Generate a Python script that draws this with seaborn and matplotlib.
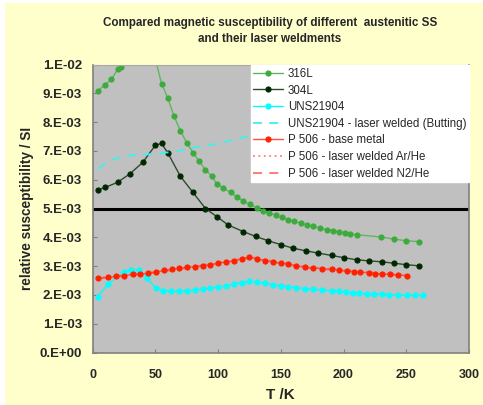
import numpy as np
import matplotlib
matplotlib.use("Agg")
import matplotlib.pyplot as plt
import matplotlib.patches as mpatches
import seaborn as sns

# ---------------- data (susceptibility in units of 1e-3 SI) ----------------
t_316 = [4, 10, 15, 20, 22.5, 30, 40, 50, 55, 60, 65, 70, 75, 80, 85, 90, 95, 99,
         104, 110, 115, 120, 125.5, 131, 135.5, 141, 146, 151, 156, 160.5, 166, 171,
         176, 181, 186.5, 192, 196.5, 201, 205.5, 210.5, 230, 240, 250, 260]
chi_316 = [9.07, 9.30, 9.48, 9.83, 9.91, 10.6, 11.2, 10.2, 9.34, 8.83, 8.20, 7.70,
           7.29, 6.94, 6.64, 6.35, 6.12, 5.86, 5.71, 5.56, 5.40, 5.26, 5.14, 5.03,
           4.93, 4.84, 4.76, 4.69, 4.61, 4.55, 4.49, 4.43, 4.38, 4.32, 4.26, 4.23,
           4.19, 4.15, 4.12, 4.09, 4.01, 3.94, 3.88, 3.85]

t_304 = [4.4, 10, 20, 30, 40, 50, 55, 60, 70, 80, 90, 99, 108, 120, 130, 140, 150.5,
         160, 170, 180, 190.5, 200.5, 210.5, 220.5, 230.5, 240, 250, 260]
chi_304 = [5.65, 5.73, 5.91, 6.21, 6.60, 7.19, 7.26, 6.93, 6.12, 5.56, 5.00, 4.72,
           4.43, 4.20, 4.03, 3.88, 3.74, 3.62, 3.53, 3.45, 3.37, 3.29, 3.22, 3.18,
           3.15, 3.10, 3.05, 3.01]

t_uns = [4, 12.5, 25, 31, 37, 43.5, 50.5, 56.5, 62.5, 69, 75, 81.5, 88, 94, 100,
         106.5, 112.5, 119, 125, 131, 137.5, 143.5, 150, 156, 162.5, 169, 176, 183,
         190.5, 196.5, 202, 207.5, 212.5, 218.5, 224.5, 230.5, 236.5, 243.5, 250.5,
         257, 263]
chi_uns = [1.94, 2.38, 2.81, 2.87, 2.87, 2.58, 2.23, 2.15, 2.12, 2.12, 2.14, 2.17,
           2.21, 2.23, 2.28, 2.31, 2.37, 2.43, 2.48, 2.45, 2.41, 2.36, 2.31, 2.29,
           2.25, 2.22, 2.19, 2.17, 2.15, 2.12, 2.09, 2.08, 2.06, 2.03, 2.03, 2.02,
           2.01, 2.00, 1.99, 1.99, 1.98]

t_uns_w = [4.4, 12.5, 23, 33.5, 49.5, 65.5, 84, 99.5, 125.5, 150, 200, 260]
chi_uns_w = [6.37, 6.64, 6.79, 6.86, 6.89, 6.98, 7.14, 7.25, 7.53, 7.65, 7.80, 7.90]

t_p506 = [4, 12.5, 19, 25, 32, 38, 44.5, 50.5, 57, 63, 69, 75.5, 81.5, 88, 94, 100,
          106.5, 112.5, 119, 125, 131, 137.5, 143.5, 150, 156, 162.5, 169, 176, 183,
          190.5, 196.5, 202.5, 208.5, 213.5, 220, 225, 231, 237, 243.5, 250.5]
chi_p506 = [2.58, 2.61, 2.64, 2.67, 2.71, 2.73, 2.75, 2.79, 2.85, 2.89, 2.93, 2.96,
            2.98, 3.02, 3.05, 3.10, 3.14, 3.18, 3.25, 3.31, 3.25, 3.19, 3.15, 3.10,
            3.07, 3.01, 2.96, 2.94, 2.91, 2.89, 2.87, 2.83, 2.81, 2.79, 2.77, 2.74,
            2.73, 2.71, 2.70, 2.67]

t_p506_ar = [4, 50, 100, 125, 170, 250]
chi_p506_ar = [2.60, 2.81, 3.12, 3.33, 2.98, 2.69]

t_p506_n2 = [4, 50, 100, 125, 170, 250]
chi_p506_n2 = [2.56, 2.77, 3.08, 3.29, 2.94, 2.65]

limit_value = 5.0

x_ticks = [0, 50, 100, 150, 200, 250, 300]
y_ticks = [0, 1, 2, 3, 4, 5, 6, 7, 8, 9, 10]
y_tick_labels = ["0.E+00", "1.E-03", "2.E-03", "3.E-03", "4.E-03", "5.E-03",
                 "6.E-03", "7.E-03", "8.E-03", "9.E-03", "1.E-02"]

labels = ["316L", "304L", "UNS21904", "UNS21904 - laser welded (Butting)",
          "P 506 - base metal", "P 506 - laser welded Ar/He",
          "P 506 - laser welded N2/He"]

# ---------------- figure ----------------
sns.set_style("white")
plt.rcParams["font.family"] = ["Liberation Sans", "DejaVu Sans"]

fig = plt.figure(figsize=(4.83, 4.05), dpi=100)
fig.patch.set_facecolor("white")
fig.patches.append(mpatches.Rectangle((5 / 483, 0), 1, (405 - 3) / 405,
                                      transform=fig.transFigure,
                                      facecolor="#FFFFCC", edgecolor="none",
                                      zorder=-10))

ax = fig.add_axes([92.5 / 483, 1 - 352.5 / 405, (469 - 92.5) / 483, (352.5 - 64.5) / 405])
ax.set_facecolor("#C0C0C0")

scale = 1e-3
ms = 3.7

sns.lineplot(x=t_316, y=np.array(chi_316) * scale, ax=ax, color="#5DB85D",
             lw=1.0, marker="o", ms=ms, markerfacecolor="#3DAA3D",
             markeredgecolor="#3DAA3D", label=labels[0], sort=False)
sns.lineplot(x=t_304, y=np.array(chi_304) * scale, ax=ax, color="#2E4A2E",
             lw=1.0, marker="o", ms=ms, markerfacecolor="#002800",
             markeredgecolor="#002800", label=labels[1], sort=False)
sns.lineplot(x=t_uns, y=np.array(chi_uns) * scale, ax=ax, color="#00FFFF",
             lw=1.0, marker="o", ms=ms, markerfacecolor="#00FFFF",
             markeredgecolor="#00FFFF", label=labels[2], sort=False)
sns.lineplot(x=t_uns_w, y=np.array(chi_uns_w) * scale, ax=ax, color="#40F0F0",
             lw=1.3, linestyle=(0, (5, 4)), label=labels[3], sort=False)
sns.lineplot(x=t_p506_ar, y=np.array(chi_p506_ar) * scale, ax=ax, color="#FF8080",
             lw=1.3, linestyle=(0, (1, 2)), label=labels[5], sort=False)
sns.lineplot(x=t_p506_n2, y=np.array(chi_p506_n2) * scale, ax=ax, color="#FF7070",
             lw=1.3, linestyle=(0, (5, 4)), label=labels[6], sort=False)
sns.lineplot(x=t_p506, y=np.array(chi_p506) * scale, ax=ax, color="#FF5040",
             lw=1.0, marker="o", ms=ms, markerfacecolor="#FF2000",
             markeredgecolor="#FF2000", label=labels[4], sort=False)

ax.axhline(limit_value * scale, color="black", lw=2.2, zorder=1.5)

ax.set_xlim(0, 300)
ax.set_ylim(0, 10 * scale)
ax.set_xticks(x_ticks)
ax.set_xticklabels([str(v) for v in x_ticks], fontweight="bold", fontsize=9)
ax.set_yticks(np.array(y_ticks) * scale)
ax.set_yticklabels(y_tick_labels, fontweight="bold", fontsize=9.5)
ax.tick_params(axis="both", direction="in", length=3, color="#808080",
               width=0.8, left=True, bottom=True)
ax.tick_params(axis="y", pad=7.5)
ax.tick_params(axis="x", pad=12)

for side in ["left", "bottom", "right"]:
    ax.spines[side].set_color("#808080")
    ax.spines[side].set_linewidth(1.2)
ax.spines["top"].set_color("#A8A8A8")
ax.spines["top"].set_linewidth(0.8)

ax.set_xlabel("T /K", fontweight="bold", fontsize=11, labelpad=5)
ax.set_ylabel("relative susceptibility / SI", fontweight="bold", fontsize=9.8,
              labelpad=4)

# legend in the reference order
handles, labs = ax.get_legend_handles_labels()
order = [labs.index(l) for l in labels]
leg = ax.legend([handles[i] for i in order], [labs[i] for i in order],
                loc="upper right", bbox_to_anchor=(1.0, 0.997), borderaxespad=0,
                fontsize=8.3, frameon=True, fancybox=False, framealpha=1,
                facecolor="white", edgecolor="white", handlelength=2.6,
                handletextpad=0.4, labelspacing=0.4, borderpad=0.22)

fig.text(270 / 483, 1 - 31 / 405,
         "Compared magnetic susceptibility of different  austenitic SS\nand their laser weldments",
         ha="center", va="center", fontweight="bold", fontsize=8.4,
         linespacing=1.35)

fig.savefig("out.png", dpi=100, facecolor=fig.get_facecolor())
